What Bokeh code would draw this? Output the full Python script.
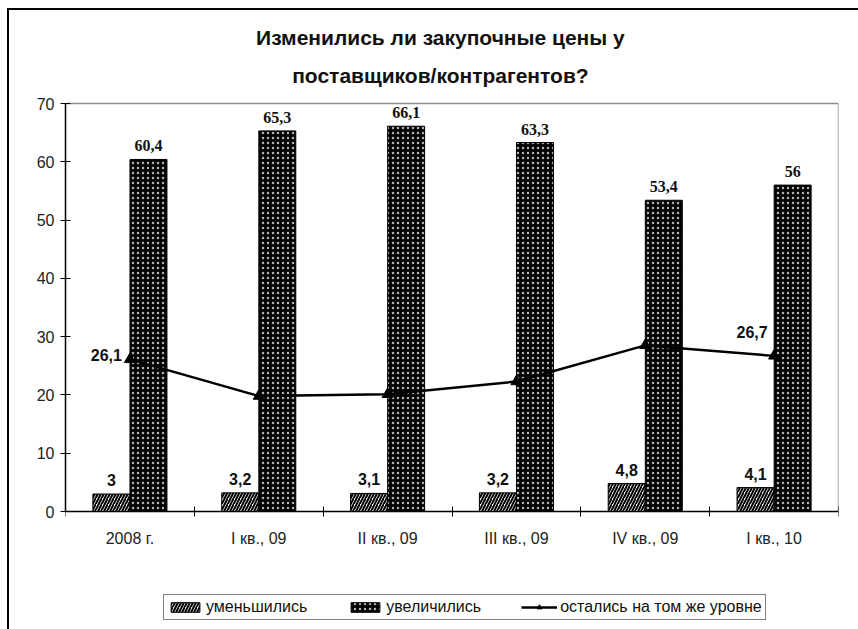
import numpy as np
from bokeh.plotting import figure
from bokeh.models import (FixedTicker, Legend, LegendItem, ColumnDataSource,
                          Range1d, Label)
from bokeh.core.properties import value
from bokeh.embed import file_html
from bokeh.resources import INLINE

title_lines = ["Изменились ли закупочные цены у", "поставщиков/контрагентов?"]
categories = ["2008 г.", "I кв., 09", "II кв., 09", "III кв., 09", "IV кв., 09", "I кв., 10"]
decreased = [3, 3.2, 3.1, 3.2, 4.8, 4.1]
decreased_labels = ["3", "3,2", "3,1", "3,2", "4,8", "4,1"]
increased = [60.4, 65.3, 66.1, 63.3, 53.4, 56]
increased_labels = ["60,4", "65,3", "66,1", "63,3", "53,4", "56"]
same = [26.1, 19.8, 20.1, 22.3, 28.5, 26.7]
same_labels = ["26,1", "", "", "", "", "26,7"]
series_names = ["уменьшились", "увеличились", "остались на том же уровне"]
y_ticks = [0, 10, 20, 30, 40, 50, 60, 70]

FONT = "Liberation Sans"
n = len(categories)
y_max = y_ticks[-1]
xc = np.arange(n) + 0.5
off = 0.144
bw = 0.287

src = ColumnDataSource(dict(
    xd=xc - off, xi=xc + off, xc=xc,
    dec=decreased, inc=increased, same=same,
    dl=decreased_labels, il=increased_labels, sl=same_labels))

# frame covers the full page height: value 0 at 511px, value 70 at 103px
ppu = 408 / y_max
p = figure(width=858, height=629, output_backend="svg", toolbar_location=None,
           x_range=Range1d(0, n),
           y_range=Range1d(-118 / ppu, y_max + 103 / ppu),
           min_border_left=65, min_border_right=20, min_border_top=0,
           min_border_bottom=0)
p.grid.visible = False
p.outline_line_color = None
p.background_fill_color = None
p.border_fill_color = None
p.styles = {"background": (
    "linear-gradient(#000,#000) 7px 8px/851px 2px no-repeat, "
    "linear-gradient(#000,#000) 7px 8px/2px 640px no-repeat, white")}

# plot-area border (top and right), grey
p.segment(x0=[0, n], y0=[y_max, 0], x1=[n, n], y1=[y_max, y_max],
          line_color="#8c8c8c", line_width=1.5)

r_dec = p.vbar(x="xd", top="dec", width=bw, source=src, fill_color="white",
               line_color="black", line_width=1, hatch_pattern="right_diagonal_line",
               hatch_color="black", hatch_scale=6, hatch_weight=2)
r_inc = p.vbar(x="xi", top="inc", width=bw, source=src, fill_color="black",
               line_color="black", line_width=1, hatch_pattern="dot",
               hatch_color="white", hatch_scale=5, hatch_weight=0.5, hatch_alpha=0.7)
r_line = p.line(x="xc", y="same", source=src, line_color="black", line_width=2.5)
r_mk = p.scatter(x="xc", y="same", source=src, marker="triangle", size=11,
                 fill_color="black", line_color="black")

lab = dict(text_font_size="16px", text_font_style="bold", text_color="#111111")
p.text(x="xd", y="dec", text="dl", source=src, text_align="center",
       text_baseline="bottom", y_offset=-8, text_font=value(FONT), **lab)
p.text(x="xi", y="inc", text="il", source=src, text_align="center",
       text_baseline="bottom", y_offset=-8, text_font=value("Liberation Serif"), **lab)
p.text(x=[xc[0]], y=[same[0]], text=[same_labels[0]], text_align="right",
       text_baseline="middle", x_offset=-8, y_offset=-4, text_font=value(FONT), **lab)
p.text(x=[xc[5]], y=[same[5]], text=[same_labels[5]], text_align="center",
       text_baseline="bottom", x_offset=-22, y_offset=-18, text_font=value(FONT), **lab)

# axes
xa = p.xaxis[0]
xa.fixed_location = 0
xa.ticker = FixedTicker(ticks=list(xc), minor_ticks=list(range(n + 1)))
xa.major_label_overrides = {float(x): c for x, c in zip(xc, categories)}
xa.major_tick_in = 0
xa.major_tick_out = 0
xa.minor_tick_in = 5
xa.minor_tick_out = 5
xa.minor_tick_line_color = "black"
xa.axis_line_color = "black"
xa.axis_line_width = 1.5
xa.major_label_text_font = FONT
xa.major_label_text_font_size = "16px"
xa.major_label_text_color = "#222222"
xa.major_label_standoff = 13

ya = p.yaxis[0]
ya.ticker = FixedTicker(ticks=y_ticks)
ya.bounds = (0, y_max)
ya.major_tick_in = 5
ya.major_tick_out = 5
ya.minor_tick_line_color = None
ya.axis_line_color = "black"
ya.axis_line_width = 1.5
ya.major_tick_line_color = "black"
ya.major_label_text_font = FONT
ya.major_label_text_font_size = "16px"
ya.major_label_text_color = "#222222"
ya.major_label_standoff = 6

# title, two centred lines above the plot area
for i, t in enumerate(title_lines):
    p.add_layout(Label(x=n / 2 - 0.09, y=y_max + (66 - 38 * i) / ppu, text=t,
                       text_align="center", text_baseline="middle",
                       text_font=FONT, text_font_size="21px",
                       text_font_style="bold", text_color="#111111"))

legend = Legend(items=[
    LegendItem(label=series_names[0], renderers=[r_dec]),
    LegendItem(label=series_names[1], renderers=[r_inc]),
    LegendItem(label=series_names[2], renderers=[r_line, r_mk]),
], orientation="horizontal", location=(98, 9),
    label_text_font=FONT, label_text_font_size="16px", label_text_color="#111111",
    glyph_width=36, glyph_height=12, spacing=40, padding=3, margin=0,
    label_standoff=3, border_line_color="black", border_line_width=1.2,
    background_fill_color="white", background_fill_alpha=1, label_height=15)
p.add_layout(legend, "center")

open("out.html", "w").write(file_html(p, INLINE))
